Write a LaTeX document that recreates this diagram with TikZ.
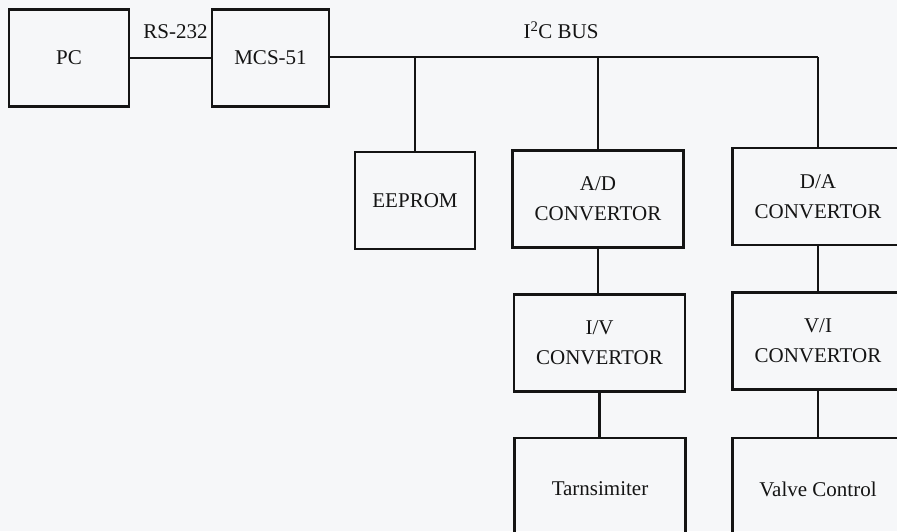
\documentclass[tikz,border=0pt]{standalone}
\usepackage{fontspec}
\setmainfont{Liberation Serif}
\usepackage{tikz}
\usetikzlibrary{positioning}
\usepackage{xcolor}
\definecolor{paper}{RGB}{246,247,249}
\definecolor{ink}{RGB}{20,20,20}

\begin{document}
\begin{tikzpicture}[x=1pt,y=-1pt, every node/.style={font=\fontsize{21}{30}\selectfont,text=ink},
  blk/.style={draw=ink,line width=2.2pt,minimum width=120pt,minimum height=97pt,align=center,inner sep=0pt},
  wide/.style={blk,minimum width=171pt},
  wire/.style={draw=ink,line width=2.2pt},
  lab/.style={inner sep=1pt}]
  \fill[paper] (0,0) rectangle (897,531); \useasboundingbox (0,0) rectangle (897,531);
  % top row
  \node[blk] (pc) at (69,58) {PC}; \node[blk,minimum width=117pt] (mcs) at (270.5,58) {MCS-51};
  \node[lab] (rs) at (175.5,32) {RS-232}; \node[lab] (i2c) at (561,30) {I\textsuperscript{2}C BUS};
  \coordinate (busend) at (818,57);
  % bus devices
  \node[blk] (eeprom) at (415,200.5) {EEPROM};
  \node[wide] (ad) at (598,199) {A/D\\CONVERTOR};
  \node[wide] (da) at (818,196.5) {D/A\\CONVERTOR};
  \node[wide] (iv) at (599.5,343) {I/V\\CONVERTOR};
  \node[wide] (vi) at (818,341) {V/I\\CONVERTOR};
  \node[wide,minimum height=102pt] (tr) at (600,489) {Tarnsimiter};
  \node[wide,minimum height=102pt] (vc) at (818,489) {Valve Control};
  % connections
  \draw[wire] (pc) -- (mcs); \draw[wire] (mcs.east |- busend) -- (busend);
  \draw[wire] (busend -| eeprom.north) -- (eeprom.north);
  \draw[wire] (busend -| ad.north) -- (ad.north);
  \draw[wire] (busend) -- (da.north);
  \draw[wire] (ad.south) -- (ad.south |- iv.north); \draw[wire] (iv.south) -- (iv.south |- tr.north);
  \draw[wire] (da.south) -- (vi.north); \draw[wire] (vi.south) -- (vc.north);
\end{tikzpicture}
\end{document}
